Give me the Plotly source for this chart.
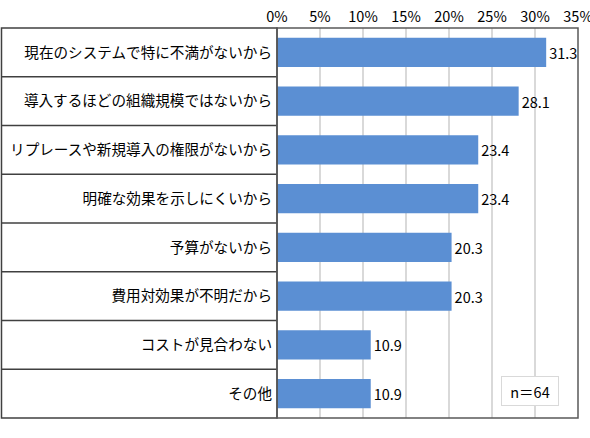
import plotly.graph_objects as go

categories = ["現在のシステムで特に不満がないから", "導入するほどの組織規模ではないから",
              "リプレースや新規導入の権限がないから", "明確な効果を示しにくいから",
              "予算がないから", "費用対効果が不明だから", "コストが見合わない", "その他"]
values = [31.3, 28.1, 23.4, 23.4, 20.3, 20.3, 10.9, 10.9]
tick_vals = [0, 5, 10, 15, 20, 25, 30, 35]
tick_text = ["0%", "5%", "10%", "15%", "20%", "25%", "30%", "35%"]
note = "n＝64"

font_name = "Noto Sans CJK JP"
bar_color = "#5B8FD3"

fig = go.Figure()
fig.add_trace(go.Bar(
    x=values, y=categories, orientation="h",
    marker=dict(color=bar_color, line=dict(width=0)),
    width=0.6,
    text=["{:.1f}".format(v) for v in values],
    textposition="outside", cliponaxis=False, constraintext="none",
    textfont=dict(size=14.5, color="#000000", family=font_name),
))

# left label table: outer box + row separators
n = len(categories)
fig.add_shape(type="rect", xref="paper", yref="paper", x0=-0.9153, x1=0, y0=0, y1=1,
              line=dict(color="#404040", width=1.5), layer="above")
for i in range(n - 1):
    fig.add_shape(type="line", xref="paper", yref="y", x0=-0.9153, x1=0,
                  y0=i + 0.5, y1=i + 0.5, line=dict(color="#404040", width=1.5))
fig.add_shape(type="rect", xref="paper", yref="paper", x0=0, x1=1, y0=0, y1=1,
              line=dict(color="#595959", width=1.5), layer="above")

fig.add_annotation(text=note, xref="paper", yref="paper", x=0.84, y=0.069,
                   xanchor="center", yanchor="middle", width=50, height=22,
                   showarrow=False, font=dict(size=14.5, color="#000000", family=font_name),
                   bordercolor="#D9D9D9", borderwidth=1, borderpad=3, bgcolor="white")

fig.update_layout(
    width=590, height=438,
    margin=dict(l=277, r=12, t=28, b=20, autoexpand=False),
    paper_bgcolor="white", plot_bgcolor="white",
    showlegend=False,
    font=dict(family=font_name, size=14, color="#000000"),
    bargap=0.4,
)
fig.update_xaxes(range=[0, 35], side="top", tickvals=tick_vals, ticktext=tick_text,
                 showgrid=True, gridcolor="#D9D9D9", gridwidth=1.5, zeroline=False,
                 ticks="", tickfont=dict(size=14.5, family=font_name), ticklabelstandoff=2,
                 ticklabeloverflow="allow", automargin=False, fixedrange=True)
fig.update_yaxes(categoryorder="array", categoryarray=categories, autorange="reversed",
                 ticks="", tickfont=dict(size=14.6, family=font_name), ticklabelstandoff=4,
                 automargin=False, showgrid=False, fixedrange=True)

fig.write_html("out.html", config={"displayModeBar": False},
               post_script="document.body.style.margin='0';")
